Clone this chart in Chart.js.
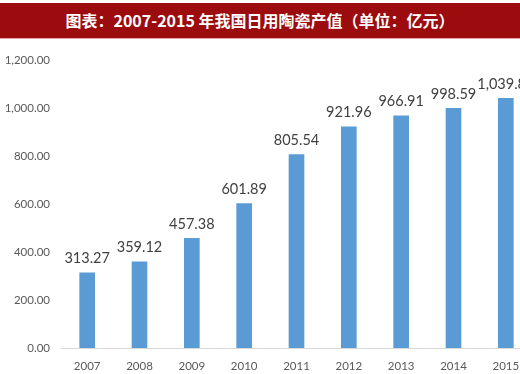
<!DOCTYPE html>
<html>
<head>
<meta charset="utf-8">
<script src="https://cdn.jsdelivr.net/npm/chart.js@4.4.0/dist/chart.umd.min.js"></script>
<style>
    body { margin: 0; width: 520px; height: 374px; overflow: hidden; background: #fff; position: relative; }
    #titleBar {
        position: absolute; left: 0; top: 3px; width: 520px; height: 35px;
        background: #9c0b0e; color: #fff; text-align: center;
        font-family: "Noto Sans CJK SC", sans-serif; font-weight: 600; font-size: 16px; line-height: 35px;
        border-bottom: 1px solid #e0a0a0;
    }
    #chart { position: absolute; left: 0; top: 0; }
</style>
</head>
<body>
<div id="titleBar">图表：2007-2015 年我国日用陶瓷产值（单位：亿元）</div>
<canvas id="chart" width="532" height="374"></canvas>
<script>
const years = ['2007', '2008', '2009', '2010', '2011', '2012', '2013', '2014', '2015'];
const outputValues = [313.27, 359.12, 457.38, 601.89, 805.54, 921.96, 966.91, 998.59, 1039.89];
const yTicks = [0, 200, 400, 600, 800, 1000, 1200];

function fmt(v) {
    return v.toLocaleString('en-US', { minimumFractionDigits: 2, maximumFractionDigits: 2 });
}

// labels above the bars
const barLabels = {
    id: 'barLabels',
    afterDatasetsDraw(chart) {
        const ctx = chart.ctx;
        const meta = chart.getDatasetMeta(0);
        ctx.save();
        ctx.font = '14.5px Lato, sans-serif';
        ctx.fillStyle = '#404040';
        ctx.textAlign = 'center';
        ctx.textBaseline = 'bottom';
        meta.data.forEach((bar, i) => {
            ctx.fillText(fmt(outputValues[i]), bar.x, bar.y - 7);
        });
        ctx.restore();
    }
};

new Chart(document.getElementById('chart').getContext('2d'), {
    type: 'bar',
    data: {
        labels: years,
        datasets: [{
            data: outputValues,
            backgroundColor: '#5b9bd5',
            barThickness: 15
        }]
    },
    options: {
        responsive: false,
        animation: false,
        layout: { padding: { top: 60, left: 0, right: 0, bottom: 0 } },
        plugins: { legend: { display: false }, tooltip: { enabled: false } },
        scales: {
            x: {
                grid: { display: false, drawTicks: false },
                border: { display: true, color: '#d9d9d9', width: 1 },
                ticks: { color: '#595959', font: { family: 'Lato, sans-serif', size: 11.5 }, padding: 11, maxRotation: 0 },
                afterFit(scale) { scale.height = 26; }
            },
            y: {
                min: 0,
                max: 1200,
                afterBuildTicks(scale) { scale.ticks = yTicks.map(v => ({ value: v })); },
                grid: { display: false, drawTicks: false },
                border: { display: false },
                ticks: {
                    color: '#595959',
                    font: { family: 'Lato, sans-serif', size: 11.5 },
                    padding: 11,
                    callback: v => fmt(v)
                },
                afterFit(scale) { scale.width = 61; }
            }
        }
    },
    plugins: [barLabels]
});
</script>
</body>
</html>
